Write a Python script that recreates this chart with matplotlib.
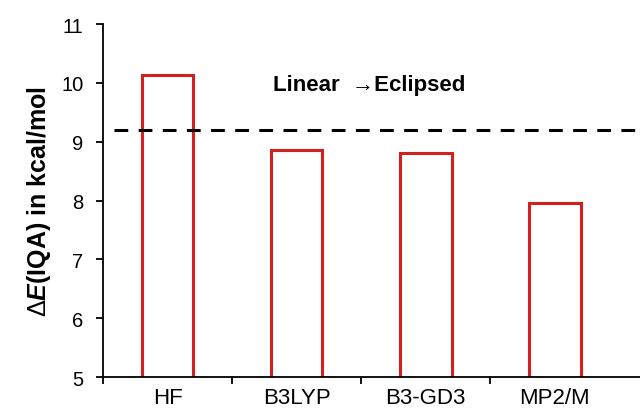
"""Bar chart of IQA energy differences per method."""

import matplotlib.pyplot as plt
import numpy as np

plt.rcParams["font.family"] = ["Liberation Sans", "DejaVu Sans"]
plt.rcParams["mathtext.fontset"] = "custom"
plt.rcParams["mathtext.rm"] = "Liberation Sans"
plt.rcParams["mathtext.bf"] = "Liberation Sans:bold"
plt.rcParams["mathtext.it"] = "Liberation Sans:italic"
plt.rcParams["mathtext.bfit"] = "Liberation Sans:bold:italic"

methods = ["HF", "B3LYP", "B3-GD3", "MP2/M"]
delta_e = [10.14, 8.86, 8.81, 7.96]
reference_level = 9.2
y_ticks = [5, 6, 7, 8, 9, 10, 11]

figure = plt.figure(figsize=(6.4, 4.1), dpi=100)
axis = figure.add_axes([0.161, 0.078, 0.839, 0.861])

positions = np.arange(len(methods))

axis.bar(
    positions,
    delta_e,
    width=0.4,
    color="white",
    edgecolor="#d21f1f",
    linewidth=2.2,
)

axis.axhline(
    reference_level,
    xmin=0.02,
    xmax=0.99,
    color="black",
    linewidth=2.2,
    linestyle=(0, (4.5, 3.4)),
)

axis.text(
    0.82,
    9.97,
    "Linear  \u2192Eclipsed",
    fontsize=16,
    fontweight="bold",
    va="center",
    ha="left",
)

axis.set_ylim(5, 11)
axis.set_xlim(-0.5, 3.66)
axis.set_yticks(y_ticks)
axis.set_yticklabels([str(t) for t in y_ticks], fontsize=14.5)

axis.set_xticks(positions - 0.5)
axis.set_xticklabels([])
axis.set_xticks(positions, minor=True)
axis.set_xticklabels(methods, minor=True, fontsize=16)
axis.tick_params(axis="x", which="minor", length=0, pad=7)
axis.tick_params(axis="x", which="major", length=5, width=1.3, direction="out")
axis.tick_params(axis="y", length=5, width=1.3, direction="out", pad=9)

axis.set_ylabel(
    r"$\Delta\mathbfit{E}\mathbf{(IQA)\ in\ kcal/mol}$",
    fontsize=18,
    labelpad=6,
)

for side in ["top", "right"]:
    axis.spines[side].set_visible(False)
for side in ["left", "bottom"]:
    axis.spines[side].set_linewidth(1.3)

figure.savefig("out.png", dpi=100)
plt.close(figure)
